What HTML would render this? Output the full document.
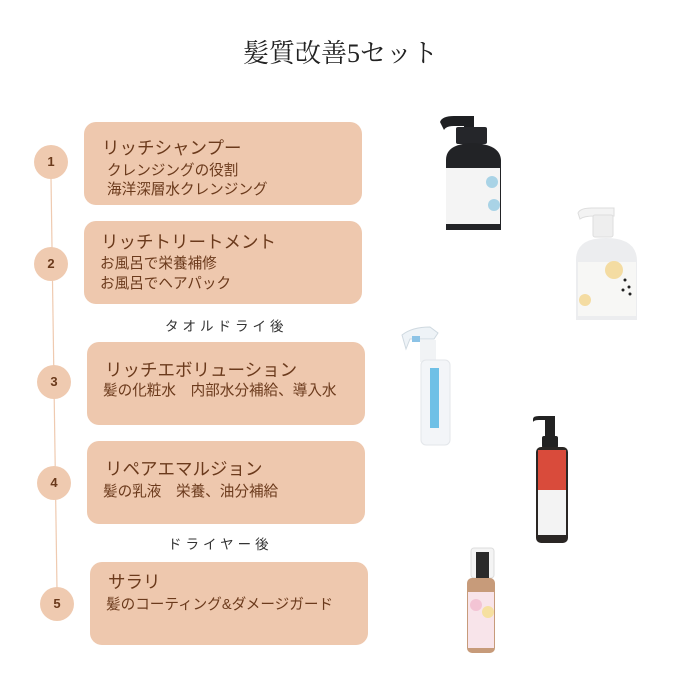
<!DOCTYPE html>
<html><head><meta charset="utf-8"><style>
body{margin:0;width:690px;height:690px;background:#fff;position:relative;overflow:hidden;font-family:"Liberation Sans","Noto Sans CJK JP",sans-serif;}
.t{position:absolute;left:243px;top:33px;font-family:"Liberation Serif","Noto Serif CJK JP",serif;font-size:26px;color:#222;white-space:nowrap;}
.box{position:absolute;width:278px;height:83px;background:#eec8ae;border-radius:12px;color:#6b3a1c;}
.box .h{position:absolute;left:18px;font-size:17.5px;line-height:20px;white-space:nowrap;}
.box .s{position:absolute;left:18px;font-size:14.6px;white-space:nowrap;line-height:20px;}
.c{position:absolute;width:34px;height:34px;border-radius:50%;background:#efcab0;color:#6b3a1c;font-weight:bold;font-size:13px;text-align:center;line-height:34px;}
.m{position:absolute;font-size:13.5px;color:#333;letter-spacing:4px;white-space:nowrap;}
</style></head><body>
<div class="t">髪質改善5セット</div>
<svg style="position:absolute;left:0;top:0" width="690" height="690">
<line x1="51" y1="178" x2="57" y2="590" stroke="#efcab0" stroke-width="1.2"/>
<path d="M440 122 q2-6 14-6 h18 v10 h-18 q-8 0-10 4z" fill="#1e1f22"/>
<rect x="464" y="116" width="10" height="14" fill="#1e1f22"/>
<rect x="456" y="127" width="31" height="17" rx="2" fill="#25262a"/>
<path d="M446 230 v-70 q0-16 26-17 q28 1 29 17 v70 z" fill="#222326"/>
<rect x="446" y="168" width="54" height="56" fill="#f4f4f4"/>
<circle cx="492" cy="182" r="6" fill="#a9d3e6"/><circle cx="494" cy="205" r="6" fill="#a9d3e6"/>
<path d="M578 213 q2-5 14-5 h22 v8 h-20 q-10 0-14 3z" fill="#f3f3f3" stroke="#ddd"/>
<rect x="593" y="215" width="20" height="22" rx="2" fill="#eee" stroke="#ddd"/>
<path d="M576 320 v-60 q0-22 30-22 q30 0 31 22 v60 z" fill="#ecedef"/>
<rect x="578" y="262" width="58" height="54" fill="#f7f7f5"/>
<circle cx="614" cy="270" r="9" fill="#f4dca2"/><circle cx="585" cy="300" r="6" fill="#f4dca2"/>
<g fill="#222"><circle cx="625" cy="280" r="1.5"/><circle cx="629" cy="287" r="1.5"/><circle cx="623" cy="290" r="1.5"/><circle cx="630" cy="294" r="1.5"/></g>
<path d="M402 335 q10-8 28-8 l8 6 -4 6 h-24 l-4 10z" fill="#eef3f7" stroke="#cfd9e0"/>
<rect x="412" y="336" width="8" height="6" fill="#8cc3e6"/>
<rect x="420" y="340" width="16" height="22" fill="#f1f3f5"/>
<rect x="421" y="360" width="29" height="85" rx="5" fill="#f3f5f8" stroke="#e3e6ea"/>
<rect x="430" y="368" width="9" height="60" fill="#6fc0e6"/>
<path d="M533 419 q0-3 6-3 h16 v4 h-16 q-5 0-6 2z" fill="#222"/>
<rect x="545" y="416" width="10" height="22" fill="#222"/>
<rect x="542" y="436" width="16" height="12" rx="2" fill="#222"/>
<rect x="536" y="447" width="32" height="96" rx="5" fill="#2a2624"/>
<rect x="538" y="450" width="28" height="40" fill="#d94b3b"/>
<rect x="538" y="490" width="28" height="45" fill="#f3f3f3"/>
<rect x="471" y="548" width="23" height="30" rx="3" fill="#f4f4f4" stroke="#ddd"/>
<rect x="476" y="552" width="13" height="26" fill="#2a2a2a"/>
<rect x="467" y="578" width="28" height="75" rx="5" fill="#c79b7a"/>
<rect x="468" y="592" width="26" height="56" fill="#f8e4ea"/>
<circle cx="476" cy="605" r="6" fill="#f3c4d4"/><circle cx="488" cy="612" r="6" fill="#f6e0a0"/>
</svg>
<div class="c" style="left:34px;top:145px">1</div>
<div class="c" style="left:34px;top:247px">2</div>
<div class="c" style="left:37px;top:365px">3</div>
<div class="c" style="left:37px;top:466px">4</div>
<div class="c" style="left:40px;top:587px">5</div>
<div class="box" style="left:84px;top:122px"><div class="h" style="top:16px">リッチシャンプー</div><div class="s" style="top:40px;left:23px;line-height:19px">クレンジングの役割<br>海洋深層水クレンジング</div></div>
<div class="box" style="left:84px;top:221px"><div class="h" style="top:11px;left:17px">リッチトリートメント</div><div class="s" style="top:33px;left:16px">お風呂で栄養補修<br>お風呂でヘアパック</div></div>
<div class="m" style="left:165px;top:315px">タオルドライ後</div>
<div class="box" style="left:87px;top:342px"><div class="h" style="top:18px">リッチエボリューション</div><div class="s" style="top:39px;left:16px">髪の化粧水　内部水分補給、導入水</div></div>
<div class="box" style="left:87px;top:441px"><div class="h" style="top:18px">リペアエマルジョン</div><div class="s" style="top:41px;left:16px">髪の乳液　栄養、油分補給</div></div>
<div class="m" style="left:168px;top:533px">ドライヤー後</div>
<div class="box" style="left:90px;top:562px"><div class="h" style="top:10px">サラリ</div><div class="s" style="top:33px;left:16px">髪のコーティング&amp;ダメージガード</div></div>
</body></html>
